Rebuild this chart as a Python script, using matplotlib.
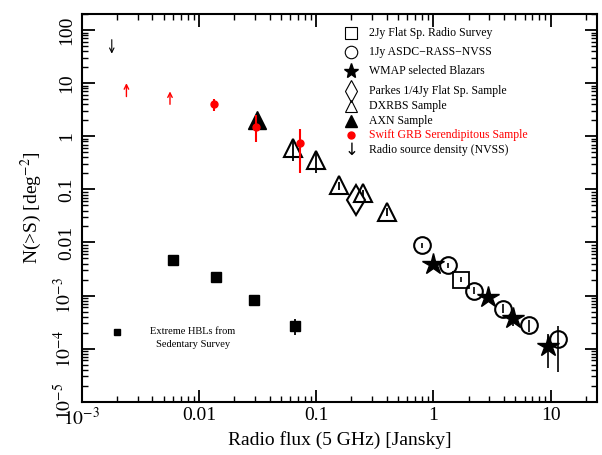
import numpy as np
import matplotlib.pyplot as plt
from matplotlib.ticker import LogLocator, NullFormatter, FixedFormatter, FixedLocator

plt.rcParams['font.family'] = ['Liberation Serif', 'DejaVu Serif']
plt.rcParams['mathtext.fontset'] = 'stix'

# ---- data ----
# Swift GRB serendipitous sample (red)
swift_x = np.array([0.0134, 0.0307, 0.073])
swift_y = np.array([4.0, 1.48, 0.74])
swift_lo = np.array([1.0, 0.71, 0.54])
swift_hi = np.array([1.0, 1.0, 0.66])
# Swift lower limits (arrows up)
swift_lim_x = np.array([0.0024, 0.00565])
swift_lim_y0 = np.array([5.6, 4.0])
swift_lim_y1 = np.array([10.0, 7.0])
# NVSS radio source density (arrow down)
nvss_x = np.array([0.0018])
nvss_y0 = np.array([66.0])
nvss_y1 = np.array([36.0])

# AXN sample
axn_x = np.array([0.031])
axn_y = np.array([2.0])

# DXRBS sample
dx_x = np.array([0.0636, 0.10, 0.157, 0.25, 0.40])
dx_y = np.array([0.59, 0.35, 0.119, 0.084, 0.038])
dx_err = np.array([0.25, 0.15, 0.02, 0.012, 0.006])

# Parkes 1/4 Jy
pk_x = np.array([0.22])
pk_y = np.array([0.062])

# Extreme HBLs (Sedentary)
hbl_x = np.array([0.006, 0.014, 0.0295, 0.066])
hbl_y = np.array([0.0046, 0.0022, 0.00084, 0.00027])
hbl_err = np.array([0.0, 0.0, 0.0, 0.00009])

# 1Jy ASDC-RASS-NVSS
asdc_x = np.array([0.8, 1.34, 2.24, 3.9, 6.6, 11.5])
asdc_y = np.array([0.0088, 0.0037, 0.00124, 0.00057, 0.00028, 0.000155])
asdc_lo = np.array([0.0008, 0.0004, 0.00018, 0.00011, 0.00007, 0.000119])
asdc_hi = np.array([0.0008, 0.0004, 0.00018, 0.00011, 0.00007, 0.000115])

# 2Jy flat spectrum
tj_x = np.array([1.73])
tj_y = np.array([0.0020])
tj_err = np.array([0.0002])

# WMAP blazars
wm_x = np.array([1.0, 2.95, 4.8, 9.6])
wm_y = np.array([0.004, 0.00095, 0.00037, 0.00011])
wm_lo = np.array([0.0004, 0.0001, 0.0001, 0.000066])
wm_hi = np.array([0.0004, 0.0001, 0.0001, 0.00008])

fig = plt.figure(figsize=(6.02, 4.55), dpi=100)
ax = fig.add_axes([0.136, 0.117, 0.856, 0.852])
ax.set_xscale('log')
ax.set_yscale('log')
ax.set_xlim(1e-3, 25)
ax.set_ylim(1e-5, 200)

ax.errorbar(swift_x, swift_y, yerr=[swift_lo, swift_hi], fmt='o', color='red',
            ms=5, elinewidth=1.5, capsize=0, zorder=3)
for x, y0, y1 in zip(swift_lim_x, swift_lim_y0, swift_lim_y1):
    ax.annotate('', xy=(x, y1), xytext=(x, y0),
                arrowprops=dict(arrowstyle='->', color='red', lw=1.0,
                                shrinkA=0, shrinkB=0, mutation_scale=8))
for x, y0, y1 in zip(nvss_x, nvss_y0, nvss_y1):
    ax.annotate('', xy=(x, y1), xytext=(x, y0),
                arrowprops=dict(arrowstyle='->', color='black', lw=0.8,
                                shrinkA=0, shrinkB=0, mutation_scale=8))

ax.plot(axn_x, axn_y, '^', color='black', ms=13, zorder=2)
ax.errorbar(dx_x, dx_y, yerr=dx_err, fmt='^', mfc='none', mec='black', mew=1.5,
            ecolor='black', elinewidth=1.3, ms=13, capsize=0)
ax.plot(pk_x, pk_y, 'd', mfc='none', mec='black', mew=1.5, ms=15)
ax.errorbar(hbl_x, hbl_y, yerr=hbl_err, fmt='s', color='black', ms=7,
            elinewidth=1.3, capsize=0)
ax.errorbar(asdc_x, asdc_y, yerr=[asdc_lo, asdc_hi], fmt='o', mfc='none',
            mec='black', mew=1.5, ecolor='black', elinewidth=1.2, ms=12, capsize=0)
ax.errorbar(tj_x, tj_y, yerr=tj_err, fmt='s', mfc='none', mec='black', mew=1.3,
            ecolor='black', elinewidth=1.2, ms=11, capsize=0)
ax.errorbar(wm_x, wm_y, yerr=[wm_lo, wm_hi], fmt='*', color='black', ms=16,
            elinewidth=1.2, capsize=0)

# legend (manual placement, uneven spacing as in the original)
leg_labels = ['2Jy Flat Sp. Radio Survey', '1Jy ASDC\u2212RASS\u2212NVSS',
              'WMAP selected Blazars', 'Parkes 1/4Jy Flat Sp. Sample',
              'DXRBS Sample', 'AXN Sample', 'Swift GRB Serendipitous Sample',
              'Radio source density (NVSS)']
leg_y = [0.950, 0.903, 0.852, 0.801, 0.763, 0.725, 0.687, 0.649]
leg_style = [dict(marker='s', mfc='none', mec='black', ms=8, mew=0.8),
             dict(marker='o', mfc='none', mec='black', ms=9, mew=0.8),
             dict(marker='*', color='black', ms=11),
             dict(marker='d', mfc='none', mec='black', ms=11, mew=0.8),
             dict(marker='^', mfc='none', mec='black', ms=9, mew=0.8),
             dict(marker='^', color='black', ms=9),
             dict(marker='o', color='red', ms=5),
             None]
leg_col = ['black'] * 6 + ['red', 'black']
for lab, yy, st, c in zip(leg_labels, leg_y, leg_style, leg_col):
    if st is not None:
        ax.plot([0.523], [yy], transform=ax.transAxes, ls='none', clip_on=False, **st)
    else:
        ax.text(0.523, yy, '\u2193', transform=ax.transAxes, ha='center',
                va='center', fontsize=12, family=['DejaVu Sans'])
    ax.text(0.557, yy, lab, transform=ax.transAxes, ha='left', va='center',
            fontsize=8.5, color=c)

ax.plot([0.068], [0.179], transform=ax.transAxes, marker='s', color='black', ms=5)
ax.text(0.215, 0.165, 'Extreme HBLs from\nSedentary Survey', transform=ax.transAxes,
        ha='center', va='center', fontsize=7.5, linespacing=1.5)

# ticks
ax.xaxis.set_major_locator(FixedLocator([1e-3, 1e-2, 1e-1, 1, 10]))
ax.xaxis.set_major_formatter(FixedFormatter([r'$10^{-3}$', '0.01', '0.1', '1', '10']))
ax.yaxis.set_major_locator(FixedLocator([1e-5, 1e-4, 1e-3, 1e-2, 1e-1, 1, 10, 100]))
ax.yaxis.set_major_formatter(FixedFormatter([r'$10^{-5}$', r'$10^{-4}$', r'$10^{-3}$',
                                             '0.01', '0.1', '1', '10', '100']))
for a in (ax.xaxis, ax.yaxis):
    a.set_minor_locator(LogLocator(base=10, subs=np.arange(2, 10), numticks=20))
    a.set_minor_formatter(NullFormatter())
ax.tick_params(which='both', direction='in', top=True, right=True, labelsize=14)
ax.tick_params(which='major', length=9, width=1.3)
ax.tick_params(which='minor', length=4.5, width=1.0)
ax.tick_params(axis='x', pad=4)
ax.tick_params(axis='y', pad=5)
for lbl in ax.get_yticklabels():
    lbl.set_rotation(90)
    lbl.set_va('center')
for s in ax.spines.values():
    s.set_linewidth(1.5)

ax.set_xlabel('Radio flux (5 GHz) [Jansky]', fontsize=14, labelpad=1)
ax.set_ylabel(r'N(>S) [deg$^{-2}$]', fontsize=14, labelpad=6)

fig.savefig('out.png', dpi=100)
